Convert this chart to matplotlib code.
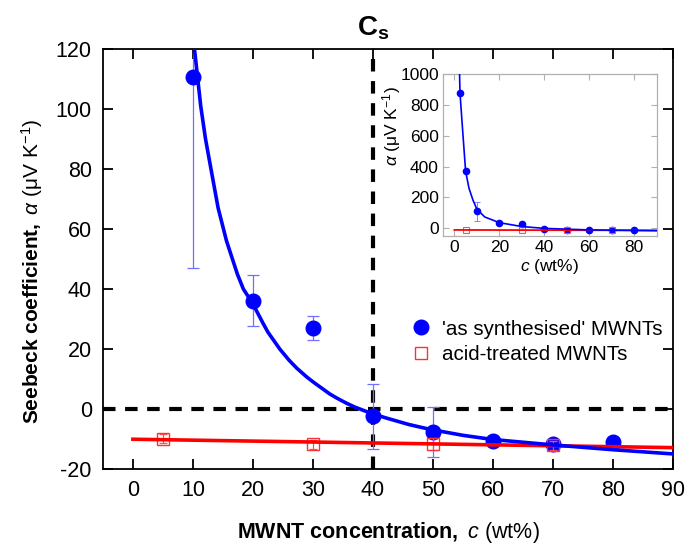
import matplotlib
matplotlib.use("Agg")
import matplotlib.pyplot as plt
import matplotlib.transforms as mtransforms

plt.rcParams["font.family"] = ["Liberation Sans", "DejaVu Sans"]
plt.rcParams["mathtext.fontset"] = "custom"
plt.rcParams["mathtext.rm"] = "Liberation Sans"
plt.rcParams["mathtext.it"] = "Liberation Sans:italic"
plt.rcParams["mathtext.bf"] = "Liberation Sans:bold"
plt.rcParams["axes.unicode_minus"] = False

# 'as synthesised' MWNTs
blue_c = [10, 20, 30, 40, 50, 60, 70, 80]
blue_a = [110.5, 36, 27, -2.5, -7.8, -10.8, -11.6, -11]
blue_err = [63.5, 8.5, 4.1, 10.8, 8.3, 0, 0, 0]

# acid-treated MWNTs
red_c = [5, 30, 50, 70]
red_a = [-9.9, -11.7, -11.7, -12.1]
red_err = [1.5, 1.5, 2.0, 1.5]

# fitted lines
fit_blue_c = [10.2, 10.7, 11.3, 12.1, 13.1, 14.2, 15.6, 17.4, 18.4, 20, 21.7, 22.5,
              24.5, 26, 27.3, 29, 30.1, 32.8, 34, 35.6, 37, 39.5, 42, 43.9, 46,
              49.5, 55, 60, 70, 80, 90]
fit_blue_a = [121, 112, 101, 90, 79, 67, 56, 45, 40, 35.0, 28.5, 25.6,
              19.9, 16.3, 13.6, 10.6, 8.9, 5.0, 3.6, 1.9, 0.6, -1.3, -2.9, -4.0, -5.2,
              -6.8, -8.8, -10.2, -12.0, -13.6, -15.0]
fit_red_c = [0, 90]
fit_red_a = [-10.1, -12.9]

# inset data
in_blue_c = [2.5, 5, 10, 20, 30, 40, 50, 60, 70, 80]
in_blue_a = [875, 370, 110, 37, 27, -2, -8, -11, -12, -11]
in_blue_err = [0, 0, 63, 8, 4, 11, 8, 0, 0, 0]
in_fit_c = [2.3, 2.5, 3.8, 5, 6.5, 8.3, 10, 13.5, 20, 30, 40, 60, 90]
in_fit_a = [1000, 875, 610, 370, 260, 182, 125, 74, 37, 12, 0, -10, -15]

fig = plt.figure(figsize=(6.86, 5.44), dpi=100)
ax = fig.add_axes([0.150, 0.138, 0.831, 0.772])

ax.axhline(0, color="black", lw=3, dashes=(3, 2.3), zorder=1)
ax.axvline(40, color="black", lw=3, dashes=(3, 2.3), zorder=1)

ax.errorbar(blue_c, blue_a, yerr=blue_err, fmt="none", ecolor="#7070ff",
            elinewidth=0.9, capsize=4, capthick=0.9, zorder=2)
ax.plot(blue_c, blue_a, "o", color="blue", ms=10.5,
        label="'as synthesised' MWNTs", zorder=3)
ax.errorbar(red_c, red_a, yerr=red_err, fmt="none", ecolor="#ff5050",
            elinewidth=0.9, capsize=3, capthick=0.9, zorder=4)
ax.plot(red_c, red_a, "s", mfc="none", mec="#ff3030", mew=1.0, ms=8.5,
        label="acid-treated MWNTs", zorder=4)
ax.plot(fit_red_c, fit_red_a, color="red", lw=2.6, zorder=5)
ax.plot(fit_blue_c, fit_blue_a, color="blue", lw=2.6, zorder=5)

ax.set_xlim(-5, 90)
ax.set_ylim(-20, 120)
ax.set_xticks(range(0, 91, 10))
ax.set_yticks(range(-20, 121, 20))
ax.tick_params(direction="in", length=7, width=1.3, labelsize=15.5,
               top=True, right=True, pad=8)
for s in ax.spines.values():
    s.set_linewidth(1.3)

ax.set_xlabel(r"$\mathbf{MWNT\ concentration,}\ \mathit{c}\ \mathrm{(wt\%)}$",
              fontsize=15.5, labelpad=14)
ax.set_ylabel(r"$\mathbf{Seebeck\ coefficient,}\ \mathit{α}\ \mathrm{(μV\ K^{-1})}$",
              fontsize=15)
ax.yaxis.set_label_coords(-0.102, 0.47)

trans = mtransforms.blended_transform_factory(ax.transData, ax.transAxes)
ax.text(40, 1.05, r"$\mathbf{C}_{\mathbf{s}}$", transform=trans, ha="center",
        va="center", fontsize=20)

ax.legend(loc="upper left", bbox_to_anchor=(0.522, 0.375), frameon=False,
          fontsize=14.8, handletextpad=0.4, labelspacing=0.3, borderaxespad=0,
          handlelength=1.2)

# inset
ins = fig.add_axes([0.646, 0.566, 0.311, 0.298])
ins.errorbar(in_blue_c, in_blue_a, yerr=in_blue_err, fmt="o", color="blue", ms=4.5,
             ecolor="#7070ff", elinewidth=0.6, capsize=2, capthick=0.6, zorder=3)
ins.plot(red_c, red_a, "s", mfc="none", mec="#ff5050", ms=4.5, mew=0.8, zorder=4)
ins.plot(fit_red_c, fit_red_a, color="red", lw=1.3, zorder=5)
ins.plot(in_fit_c, in_fit_a, color="blue", lw=1.2, zorder=5)
ins.set_xlim(-5, 90)
ins.set_ylim(-50, 1000)
ins.set_xticks(range(0, 81, 20))
ins.set_yticks(range(0, 1001, 200))
ins.tick_params(direction="in", length=4, width=0.8, color="#b0b0b0",
                labelsize=12.5, top=True, right=True, pad=3)
for s in ins.spines.values():
    s.set_color("#b0b0b0")
    s.set_linewidth(0.9)
ins.set_xlabel(r"$\mathit{c}\ \mathrm{(wt\%)}$", fontsize=12.5, labelpad=1)
ins.set_ylabel(r"$\mathit{α}\ \mathrm{(μV\ K^{-1})}$", fontsize=12.5)
ins.yaxis.set_label_coords(-0.19, 0.68)

fig.savefig("out.png", dpi=100)
